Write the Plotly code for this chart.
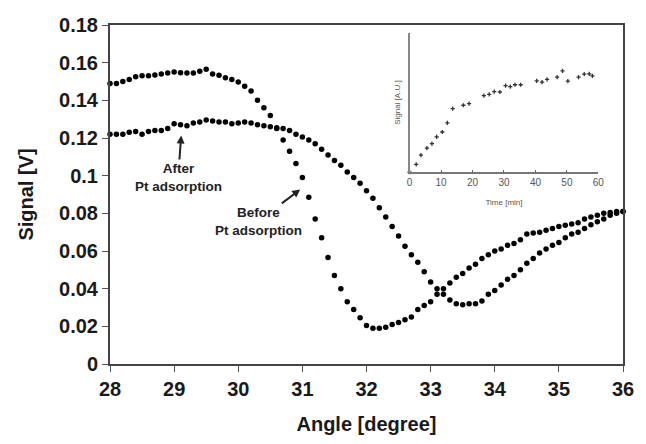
import plotly.graph_objects as go

# ---- main chart data (angle in degree, signal in V) ----
angle = [28.0, 28.1, 28.2, 28.3, 28.4, 28.5, 28.6, 28.7, 28.8, 28.9,
         29.0, 29.1, 29.2, 29.3, 29.4, 29.5, 29.6, 29.7, 29.8, 29.9,
         30.0, 30.1, 30.2, 30.3, 30.4, 30.5, 30.6, 30.7, 30.8, 30.9,
         31.0, 31.1, 31.2, 31.3, 31.4, 31.5, 31.6, 31.7, 31.8, 31.9,
         32.0, 32.1, 32.2, 32.3, 32.4, 32.5, 32.6, 32.7, 32.8, 32.9,
         33.0, 33.1, 33.2, 33.3, 33.4, 33.5, 33.6, 33.7, 33.8, 33.9,
         34.0, 34.1, 34.2, 34.3, 34.4, 34.5, 34.6, 34.7, 34.8, 34.9,
         35.0, 35.1, 35.2, 35.3, 35.4, 35.5, 35.6, 35.7, 35.8, 35.9,
         36.0]

before_pt = [0.149, 0.149, 0.150, 0.151, 0.1525, 0.153, 0.153, 0.1535, 0.154, 0.1545,
             0.155, 0.1547, 0.1545, 0.1545, 0.1555, 0.1565, 0.154, 0.1533, 0.152, 0.151,
             0.1498, 0.1475, 0.145, 0.140, 0.136, 0.132, 0.125, 0.119, 0.113, 0.1065,
             0.099, 0.0885, 0.077, 0.067, 0.0565, 0.047, 0.040, 0.033, 0.029, 0.0245,
             0.0205, 0.019, 0.019, 0.0195, 0.021, 0.022, 0.0235, 0.025, 0.029, 0.031,
             0.033, 0.037, 0.040, 0.043, 0.046, 0.048, 0.051, 0.053, 0.056, 0.058,
             0.060, 0.061, 0.063, 0.064, 0.066, 0.069, 0.0695, 0.070, 0.071, 0.072,
             0.073, 0.0737, 0.0743, 0.075, 0.077, 0.078, 0.079, 0.080, 0.0805, 0.081,
             0.081]

after_pt = [0.122, 0.122, 0.122, 0.123, 0.1235, 0.122, 0.1235, 0.124, 0.124, 0.125,
            0.1275, 0.127, 0.1265, 0.128, 0.1285, 0.1295, 0.129, 0.1285, 0.1285, 0.1275,
            0.128, 0.1285, 0.128, 0.127, 0.1265, 0.126, 0.1255, 0.125, 0.124, 0.122,
            0.1205, 0.119, 0.117, 0.114, 0.111, 0.108, 0.1055, 0.102, 0.099, 0.096,
            0.092, 0.088, 0.083, 0.078, 0.073, 0.068, 0.0625, 0.058, 0.054, 0.049,
            0.0435, 0.040, 0.037, 0.034, 0.032, 0.0315, 0.032, 0.032, 0.0335, 0.037,
            0.039, 0.042, 0.045, 0.047, 0.050, 0.0535, 0.056, 0.059, 0.061, 0.063,
            0.0645, 0.067, 0.069, 0.070, 0.072, 0.074, 0.0755, 0.077, 0.079, 0.080,
            0.081]

x_ticks = [28, 29, 30, 31, 32, 33, 34, 35, 36]
y_ticks = [0, 0.02, 0.04, 0.06, 0.08, 0.1, 0.12, 0.14, 0.16, 0.18]
y_tick_text = ["0", "0.02", "0.04", "0.06", "0.08", "0.1", "0.12", "0.14", "0.16", "0.18"]

# ---- inset data (time in min, signal in A.U.) ----
inset_time = [0, 2.1, 3.6, 5.5, 7.1, 8.6, 10.4, 12.0, 13.7, 17.1, 18.9,
              23.6, 25.3, 26.9, 28.7, 30.5, 32.0, 33.5, 35.3, 40.4, 42.1,
              43.7, 46.9, 48.6, 50.3, 53.7, 55.5, 57.1, 58.1]
inset_signal = [0, 5.7, 12.3, 17.3, 20.6, 25.4, 28.9, 35.5, 45.7, 48.1, 49.3,
                55.0, 55.9, 57.8, 57.6, 62.1, 61.4, 62.8, 62.8, 65.6, 64.7,
                66.6, 68.2, 72.7, 65.4, 68.2, 70.4, 70.6, 69.2]
inset_x_ticks = [0, 10, 20, 30, 40, 50, 60]

FONT = "Liberation Sans, Arial, sans-serif"

fig = go.Figure()
marker = dict(color="black", size=5.5)
fig.add_trace(go.Scatter(x=angle, y=before_pt, mode="markers", marker=marker,
                         name="Before Pt adsorption", cliponaxis=False))
fig.add_trace(go.Scatter(x=angle, y=after_pt, mode="markers", marker=marker,
                         name="After Pt adsorption", cliponaxis=False))
fig.add_trace(go.Scatter(x=inset_time, y=inset_signal, mode="markers",
                         marker=dict(color="#333", size=3, symbol="cross-thin",
                                     line=dict(color="#333", width=1.3)),
                         xaxis="x2", yaxis="y2", cliponaxis=False))

fig.update_layout(
    width=646, height=444,
    margin=dict(l=110, r=14, t=25, b=76),
    paper_bgcolor="white", plot_bgcolor="white",
    showlegend=False,
    font=dict(family=FONT, color="#1a1a1a"),
    xaxis=dict(range=[28, 36], tickvals=x_ticks, ticktext=[str(v) for v in x_ticks],
               ticks="outside", ticklen=6, tickwidth=1, tickcolor="#555",
               showline=True, linecolor="#444", linewidth=2, mirror=True,
               showgrid=False, zeroline=False,
               tickfont=dict(size=20, family=FONT, color="#1a1a1a", weight="bold"),
               title=dict(text="<b>Angle [degree]</b>", font=dict(size=20), standoff=18)),
    yaxis=dict(range=[0, 0.18], tickvals=y_ticks, ticktext=y_tick_text,
               ticks="outside", ticklen=6, tickwidth=1, tickcolor="#555",
               showline=True, linecolor="#444", linewidth=2, mirror=True,
               showgrid=False, zeroline=False,
               tickfont=dict(size=20, family=FONT, color="#1a1a1a", weight="bold"),
               title=dict(text="<b>Signal [V]</b>", font=dict(size=20), standoff=20)),
    xaxis2=dict(domain=[0.584, 0.952], anchor="y2", range=[0, 60],
                tickvals=inset_x_ticks, ticks="inside", ticklen=3, tickcolor="#666",
                showline=True, linecolor="#777", linewidth=1.5,
                showgrid=False, zeroline=False,
                tickfont=dict(size=10, color="#555"),
                title=dict(text="Time [min]", font=dict(size=8, color="#555"), standoff=12)),
    yaxis2=dict(domain=[0.5656, 0.9767], anchor="x2", range=[0, 100],
                showticklabels=False, ticks="",
                showline=True, linecolor="#888", linewidth=2,
                showgrid=False, zeroline=False,
                title=dict(text="Signal [A.U.]", font=dict(size=8, color="#555"), standoff=6)),
    annotations=[
        dict(x=29.11, y=0.1213, xref="x", yref="y",
             text="<b>After<br>Pt adsorption</b>", showarrow=True,
             ax=-3, ay=42, arrowhead=2, arrowsize=0.8, arrowwidth=2, arrowcolor="#222",
             standoff=0, font=dict(size=13.5, color="#222", family=FONT)),
        dict(x=30.966, y=0.0927, xref="x", yref="y",
             text="<b>Before<br>Pt adsorption</b>", showarrow=True,
             ax=-42, ay=32, arrowhead=2, arrowsize=0.8, arrowwidth=2, arrowcolor="#222",
             standoff=0, font=dict(size=13.5, color="#222", family=FONT)),
    ],
)

fig.write_html("out.html")
